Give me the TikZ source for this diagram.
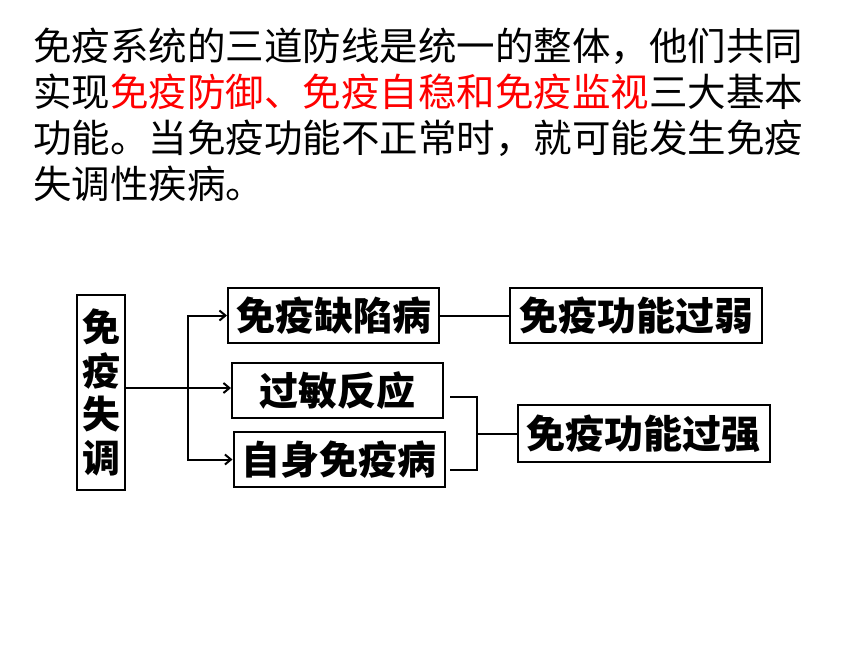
\documentclass[tikz,border=0pt]{standalone}
\usepackage{fontspec}
\setmainfont{Noto Sans CJK SC}
\usetikzlibrary{arrows.meta}

\begin{document}
\begin{tikzpicture}[x=1pt,y=-1pt]
        % Define styles
        \tikzset{
            para/.style={anchor=base west, inner sep=0pt, font=\fontsize{38.5}{46}\selectfont},
            disease/.style={rectangle, draw, line width=2pt, inner sep=0pt, minimum width=211pt, minimum height=55pt, font=\bfseries\fontsize{39}{44}\selectfont},
            result/.style={disease, minimum width=252pt},
            arrow/.style={-{Straight Barb[length=6pt,width=10pt]}, line width=2pt},
            link/.style={line width=2pt}
        }
        \useasboundingbox (0,0) rectangle (860,645);

        % Text
        \node[para] (line_1) at (33,60) {免疫系统的三道防线是统一的整体，他们共同};
        \node[para] (line_2) at (33,106) {实现\textcolor{red}{免疫防御、免疫自稳和免疫监视}三大基本};
        \node[para] (line_3) at (33,152) {功能。当免疫功能不正常时，就可能发生免疫};
        \node[para] (line_4) at (33,198) {失调性疾病。};

        % Nodes
        \node[disease, minimum width=48pt, minimum height=195pt, align=center, font=\bfseries\fontsize{38}{43.5}\selectfont] (disorder) at (101,392.5) {免\\疫\\失\\调};
        \node[disease] (weak) at (333.5,315.5) {免疫缺陷病};
        \node[disease] (allergy) at (337.5,390.5) {过敏反应};
        \node[disease] (auto) at (339,459.5) {自身免疫病};
        \node[result] (weak_fn) at (636,315.5) {免疫功能过弱};
        \node[result, minimum height=57pt] (strong_fn) at (643.5,433.5) {免疫功能过强};

        \coordinate (fork) at (188,388);
        \coordinate (brace_top) at (450,397);
        \coordinate (brace_mid) at (477,433.5);
        \coordinate (brace_bot) at (450,470);

        % Arrows
        \draw[link] (disorder.east |- fork) -- (fork);
        \draw[arrow] (fork) |- (weak);
        \draw[arrow] (fork) -- (fork -| allergy.west);
        \draw[arrow] (fork) |- (auto);
        \draw[link] (weak) -- (weak_fn);
        \draw[link] (brace_top) -| (brace_mid) |- (brace_bot);
        \draw[link] (brace_mid) -- (strong_fn);
\end{tikzpicture}
\end{document}
